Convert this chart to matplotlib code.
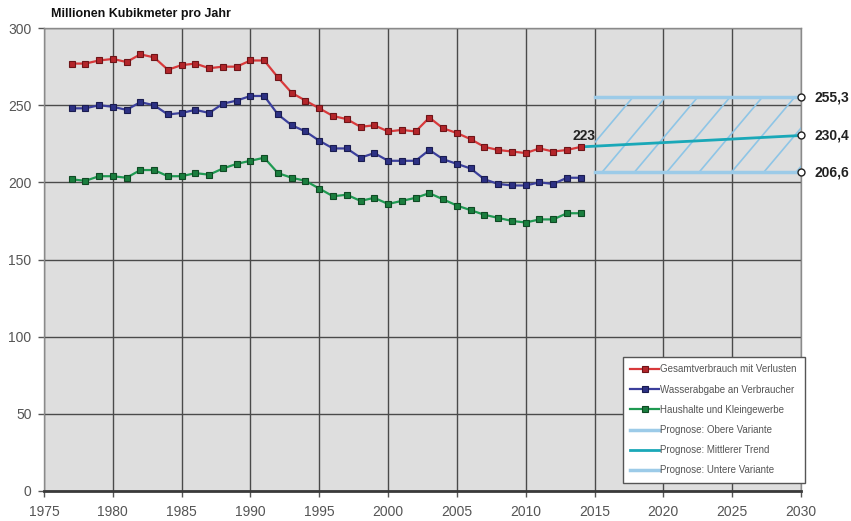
import numpy as np
import matplotlib
matplotlib.use('Agg')
import matplotlib.pyplot as plt
from matplotlib.patches import Rectangle

plt.rcParams['font.family'] = ['Liberation Sans', 'DejaVu Sans']

# years with measured values
years = list(range(1977, 2015))
# Gesamtverbrauch mit Verlusten
gesamt = [277, 277, 279, 280, 278, 283, 281, 273, 276, 277, 274, 275, 275, 279, 279,
          268, 258, 253, 248, 243, 241, 236, 237, 233, 234, 233, 242, 235, 232, 228,
          223, 221, 220, 219, 222, 220, 221, 223]
# Wasserabgabe an Verbraucher
abgabe = [248, 248, 250, 249, 247, 252, 250, 244, 245, 247, 245, 251, 253, 256, 256,
          244, 237, 233, 227, 222, 222, 216, 219, 214, 214, 214, 221, 215, 212, 209,
          202, 199, 198, 198, 200, 199, 203, 203]
# Haushalte und Kleingewerbe
haushalte = [202, 201, 204, 204, 203, 208, 208, 204, 204, 206, 205, 209, 212, 214, 216,
             206, 203, 201, 196, 191, 192, 188, 190, 186, 188, 190, 193, 189, 185, 182,
             179, 177, 175, 174, 176, 176, 180, 180]

# forecast
prog_years = [2015, 2030]
prog_oben = [255.3, 255.3]
prog_unten = [206.6, 206.6]
trend_years = [2014, 2030]
trend = [223, 230.4]

fig = plt.figure(figsize=(8.51, 5.21), dpi=100)
ax = fig.add_axes([0.0517, 0.0576, 0.8895, 0.8885])
ax.set_facecolor('#dedede')

# hatched forecast band, drawn with sparse diagonal lines
clip = Rectangle((prog_years[0], prog_unten[0]), prog_years[1] - prog_years[0],
                 prog_oben[0] - prog_unten[0], transform=ax.transData,
                 facecolor='none', edgecolor='none')
ax.add_patch(clip)
for b in np.arange(2013.2, 2031, 2.35):
    ln, = ax.plot([b, b + 4.6], [prog_unten[0], prog_oben[0]], color='#8ec5e6', lw=1.2, zorder=2)
    ln.set_clip_path(clip)

ax.plot(years, gesamt, color='#d8393b', lw=1.6, marker='s', ms=5,
        mfc='#b4252a', mec='#6e1418', mew=0.8, zorder=4, label='Gesamtverbrauch mit Verlusten')
ax.plot(years, abgabe, color='#3b3f9c', lw=1.6, marker='s', ms=5,
        mfc='#2d3184', mec='#1a1c50', mew=0.8, zorder=4, label='Wasserabgabe an Verbraucher')
ax.plot(years, haushalte, color='#1f9a52', lw=1.6, marker='s', ms=5,
        mfc='#1a7e3e', mec='#0f4a24', mew=0.8, zorder=4, label='Haushalte und Kleingewerbe')
ax.plot(prog_years, prog_oben, color='#9ccbe8', lw=2.5, zorder=3, label='Prognose: Obere Variante')
ax.plot(trend_years, trend, color='#1aa8b8', lw=2, zorder=3, label='Prognose: Mittlerer Trend')
ax.plot(prog_years, prog_unten, color='#9ccbe8', lw=2.5, zorder=3, label='Prognose: Untere Variante')

# end markers
ax.plot([2030, 2030, 2030], [prog_oben[1], trend[1], prog_unten[1]], linestyle='none',
        marker='o', ms=5, mfc='white', mec='#222222', mew=1, zorder=5, clip_on=False)

ax.text(2014.2, 225.5, '223', fontsize=10, fontweight='bold', ha='center', va='bottom', color='#222222')
for v in [prog_oben[1], trend[1], prog_unten[1]]:
    ax.text(2031.0, v, ('%.1f' % v).replace('.', ','), fontsize=10, fontweight='bold',
            ha='left', va='center', color='#222222')

ax.set_xlim(1975, 2030)
ax.set_ylim(0, 300)
ax.set_xticks(range(1975, 2031, 5))
ax.set_yticks(range(0, 301, 50))
ax.grid(True, color='#4a4a4a', lw=1.0)
ax.set_axisbelow(True)
ax.tick_params(labelsize=10, colors='#555555', length=4, width=1)
ax.tick_params(axis='x', pad=6)
ax.tick_params(axis='y', pad=5)
for s in ['top', 'right', 'left']:
    ax.spines[s].set_color('#8a8a8a')
    ax.spines[s].set_linewidth(1)
ax.spines['bottom'].set_color('#3a3a3a')
ax.spines['bottom'].set_linewidth(2)

fig.text(0.060, 0.962, 'Millionen Kubikmeter pro Jahr', fontsize=9, fontweight='bold',
         ha='left', va='bottom', color='#111111')

leg = ax.legend(loc='lower right', bbox_to_anchor=(1.005, 0.017), fontsize=7, frameon=True,
                fancybox=False, edgecolor='#555555', framealpha=1, handlelength=3.0,
                handletextpad=0.1, labelspacing=1.05, borderpad=0.8, borderaxespad=0,
                markerscale=0.8)
for t in leg.get_texts():
    t.set_color('#555555')
leg.set_zorder(10)

fig.savefig('out.png', dpi=100)
